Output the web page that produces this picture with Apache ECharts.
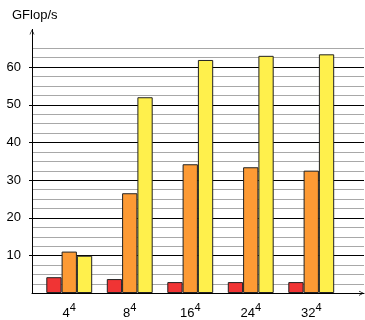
<!DOCTYPE html>
<html>
<head>
<meta charset="utf-8">
<script src="https://cdn.jsdelivr.net/npm/echarts@6/dist/echarts.min.js"></script>
<style>
  html, body { margin: 0; padding: 0; background: #fff; }
  #chart { width: 365px; height: 320px; }
</style>
</head>
<body>
<div id="chart"></div>
<script>
// Problem sizes (base of n^4) and measured throughput per variant
const categories = ['4', '8', '16', '24', '32'];
const exponent = '4';
const redValues = [4.2, 3.7, 2.9, 2.9, 2.9];
const orangeValues = [11.0, 26.5, 34.2, 33.4, 32.5];
const yellowValues = [9.9, 52.0, 61.9, 63.0, 63.4];
const yTicks = [10, 20, 30, 40, 50, 60];
const yTitle = 'GFlop/s';

const FONT = '"Liberation Sans", Arial, Helvetica, sans-serif';
// open chevron used as the axis arrow head
const chevron = 'path://M0,10 L5,0 L10,10 L8.6,10 L5,2.8 L1.4,10 Z';

const chart = echarts.init(document.getElementById('chart'), null, { renderer: 'canvas' });

const barStyle = (color) => ({ color: color, borderColor: '#222', borderWidth: 1 });

chart.setOption({
  animation: false,
  backgroundColor: '#fff',
  title: {
    text: yTitle,
    left: 7,
    top: 4,
    textStyle: { fontFamily: FONT, fontSize: 13, fontWeight: 'normal', color: '#000' }
  },
  grid: [
    // background rulings + x axis line
    { left: 32, right: 1, top: 48.3, bottom: 26.7 },
    // y axis line, ticks and labels (reaches above the rulings)
    { left: 32, width: 10, top: 29.4, bottom: 26.7 },
    // bars
    { left: 39, width: 302.5, top: 48.3, bottom: 26.7 }
  ],
  xAxis: [
    {
      gridIndex: 0, type: 'value', min: 0, max: 1,
      axisLine: { show: true, lineStyle: { color: '#000', width: 1 }, symbol: ['none', chevron], symbolSize: [8, 5], symbolOffset: [0, -2.5] },
      axisTick: { show: false }, axisLabel: { show: false }, splitLine: { show: false }
    },
    {
      gridIndex: 1, type: 'value', min: 0, max: 1, show: false
    },
    {
      gridIndex: 2, type: 'category', data: categories,
      axisLine: { show: false }, axisTick: { show: false },
      axisLabel: {
        interval: 0,
        margin: 9,
        formatter: (v) => '{b|' + v + '}{s|' + exponent + '}',
        rich: {
          b: { fontFamily: FONT, fontSize: 13, color: '#000', verticalAlign: 'bottom', lineHeight: 18 },
          s: { fontFamily: FONT, fontSize: 11, color: '#000', verticalAlign: 'top', lineHeight: 18 }
        }
      }
    }
  ],
  yAxis: [
    {
      gridIndex: 0, type: 'value', min: 0, max: 65, interval: 2.5,
      axisLine: { show: false }, axisTick: { show: false }, axisLabel: { show: false },
      splitLine: { show: true, lineStyle: { color: ['#000', '#a8a8a8', '#a8a8a8', '#a8a8a8'], width: 1 } }
    },
    {
      gridIndex: 1, type: 'value', min: 0, max: 70, interval: 10,
      axisLine: { show: true, lineStyle: { color: '#000', width: 1 }, symbol: ['none', chevron], symbolSize: [8, 5], symbolOffset: [0, -2.5] },
      axisTick: { show: true, length: 3, customValues: yTicks, lineStyle: { color: '#000' } },
      axisLabel: { show: true, customValues: yTicks, margin: 11, fontFamily: FONT, fontSize: 13, color: '#000' },
      splitLine: { show: false }
    },
    {
      gridIndex: 2, type: 'value', min: 0, max: 65, show: false
    }
  ],
  series: [
    { type: 'bar', xAxisIndex: 2, yAxisIndex: 2, data: redValues, barWidth: 15.3, barGap: '0%', itemStyle: barStyle('#f03434') },
    { type: 'bar', xAxisIndex: 2, yAxisIndex: 2, data: orangeValues, barWidth: 15.3, barGap: '0%', itemStyle: barStyle('#fd9a34') },
    { type: 'bar', xAxisIndex: 2, yAxisIndex: 2, data: yellowValues, barWidth: 15.3, barGap: '0%', itemStyle: barStyle('#fff04c') }
  ]
});
</script>
</body>
</html>
